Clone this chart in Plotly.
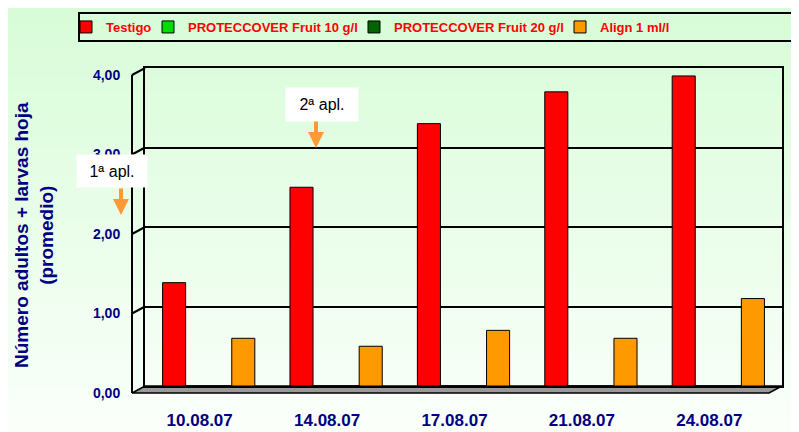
import plotly.graph_objects as go

# ---------------- data ----------------
fechas = ["10.08.07", "14.08.07", "17.08.07", "21.08.07", "24.08.07"]
testigo = [1.30, 2.50, 3.30, 3.70, 3.90]
protec_10 = [0.0, 0.0, 0.0, 0.0, 0.0]
protec_20 = [0.0, 0.0, 0.0, 0.0, 0.0]
align_1 = [0.60, 0.50, 0.70, 0.60, 1.10]
y_ticks = [0, 1, 2, 3, 4]

series = [
    ("Testigo", testigo, "#FF0000"),
    ("PROTECCOVER Fruit 10 g/l", protec_10, "#00DD00"),
    ("PROTECCOVER Fruit 20 g/l", protec_20, "#006400"),
    ("Align 1 ml/l", align_1, "#FF9900"),
]

# ---------------- geometry (page pixels) ----------------
PAGE_W, PAGE_H = 799, 432
OFF = 8                      # default body margin of the html page
L, R, T, B = 145, 782, 68, 386
DX, DY = 13, 7               # depth of the pseudo-3D side wall / floor


def px(x):
    return (x - L) / (R - L)


def py(y):
    return (B - y) / (B - T)


NAVY = "#000080"
FONT = "Liberation Sans, Arial, sans-serif"

legend_ids = ["legend", "legend2", "legend3", "legend4"]
legend_marker_x = [86, 168, 374, 580]

fig = go.Figure()
for (name, vals, col), lid in zip(series, legend_ids):
    fig.add_trace(go.Bar(
        name=name, x=fechas, y=vals, legend=lid,
        marker=dict(color=col, line=dict(color="black", width=1)),
    ))

shapes = []
# background gradient bands
n = 30
top_c = (216, 252, 216)
bot_c = (250, 255, 250)
span = PAGE_H - OFF
for i in range(n):
    t = i / (n - 1)
    c = tuple(round(top_c[k] + (bot_c[k] - top_c[k]) * t) for k in range(3))
    shapes.append(dict(
        type="rect", xref="paper", yref="paper", layer="below",
        x0=px(OFF - 2), x1=px(PAGE_W + 2),
        y0=py(OFF + span * i / n - 1), y1=py(OFF + span * (i + 1) / n + 1),
        fillcolor="rgb(%d,%d,%d)" % c, line=dict(width=0),
    ))

# floor (grey slab)
shapes.append(dict(
    type="path", layer="below",
    xref="paper", xsizemode="pixel", xanchor=0,
    yref="paper", ysizemode="pixel", yanchor=0,
    path="M 0,0 L %d,0 L %d,%d L %d,%d Z" % (R - L, R - L - DX, -DY, -DX, -DY),
    fillcolor="#999999", line=dict(color="black", width=1.5),
))
# left side wall: front vertical edge and diagonals at each grid level
shapes.append(dict(
    type="line", layer="below",
    xref="paper", xsizemode="pixel", xanchor=0, x0=-DX, x1=-DX,
    yref="paper", ysizemode="pixel", yanchor=0, y0=-DY, y1=(B - T) - DY,
    line=dict(color="black", width=2),
))
for v in y_ticks:
    shapes.append(dict(
        type="line", layer="below",
        xref="paper", xsizemode="pixel", xanchor=0, x0=0, x1=-DX,
        yref="y", ysizemode="pixel", yanchor=v, y0=0, y1=-DY,
        line=dict(color="black", width=2),
    ))
# legend frame
shapes.append(dict(
    type="rect", xref="paper", yref="paper",
    x0=px(79), x1=px(815), y0=py(13), y1=py(41),
    line=dict(color="black", width=2), fillcolor="rgba(0,0,0,0)",
))

annotations = [
    dict(text="Número adultos + larvas hoja<br>(promedio)", textangle=-90,
         xref="paper", yref="paper", x=px(34), y=py(235),
         xanchor="center", yanchor="middle", showarrow=False,
         font=dict(family=FONT, size=19, color=NAVY, weight="bold")),
    dict(text="1ª apl.", xref="paper", yref="paper", x=px(112), y=py(171),
         xanchor="center", yanchor="middle", showarrow=False,
         width=70, height=32, bgcolor="white", borderpad=0,
         font=dict(family=FONT, size=16, color="black")),
    dict(text="2ª apl.", xref="paper", yref="paper", x=px(322), y=py(104),
         xanchor="center", yanchor="middle", showarrow=False,
         width=72, height=33, bgcolor="white", borderpad=0,
         font=dict(family=FONT, size=16, color="black")),
    dict(text="", xref="paper", yref="paper", x=px(121), y=py(215),
         ax=0, ay=-28, showarrow=True, arrowcolor="#FF9933",
         arrowwidth=4, arrowhead=2, arrowsize=0.8, standoff=0),
    dict(text="", xref="paper", yref="paper", x=px(316), y=py(148),
         ax=0, ay=-28, showarrow=True, arrowcolor="#FF9933",
         arrowwidth=4, arrowhead=2, arrowsize=0.8, standoff=0),
]

legend_font = dict(family=FONT, size=13, color="#FF0000", weight="bold")
legends = {}
for lid, mx in zip(legend_ids, legend_marker_x):
    legends[lid] = dict(
        orientation="h", x=px(mx - 20), y=py(27), xanchor="left", yanchor="middle",
        bgcolor="rgba(0,0,0,0)", borderwidth=0, font=legend_font, itemwidth=30,
    )

fig.update_layout(
    width=PAGE_W - OFF, height=PAGE_H - OFF,
    margin=dict(l=L - OFF, r=PAGE_W - R, t=T - OFF, b=PAGE_H - B, autoexpand=False),
    paper_bgcolor="rgb(250,255,250)",
    plot_bgcolor="rgba(0,0,0,0)",
    separators=",.",
    barmode="group", bargap=0.276, bargroupgap=0,
    showlegend=True,
    shapes=shapes,
    annotations=annotations,
    xaxis=dict(
        type="category", showgrid=False, zeroline=False,
        showline=True, linecolor="black", linewidth=2, mirror=True,
        ticks="", ticklabelstandoff=18, ticklabelshift=-9,
        tickfont=dict(family=FONT, size=17, color=NAVY, weight="bold"),
    ),
    yaxis=dict(
        range=[0, 4], tickvals=y_ticks, tickformat=".2f",
        showgrid=True, gridcolor="black", gridwidth=2, zeroline=False,
        showline=True, linecolor="black", linewidth=2, mirror=True,
        ticks="", ticklabelstandoff=20, ticklabelshift=7,
        tickfont=dict(family=FONT, size=14, color=NAVY, weight="bold"),
    ),
    **legends,
)

fig.write_html("out.html")
